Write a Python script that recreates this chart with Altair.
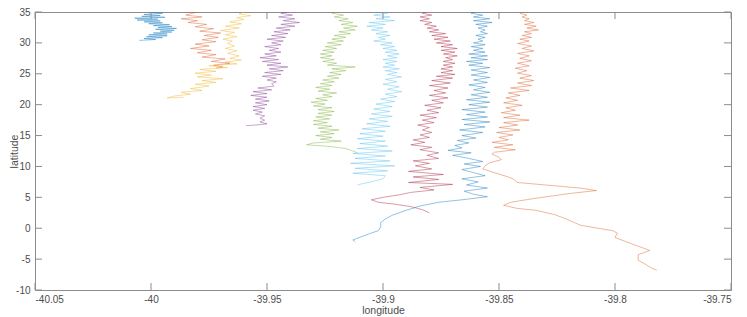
import altair as alt
import pandas as pd

# ---- data (lon, lat) ----
lat1 = [35.2, 35.0, 34.8, 34.6, 34.45, 34.3, 34.15, 34.0, 33.85, 33.7, 33.55, 33.4, 33.25, 33.1, 32.95, 32.8,
        32.65, 32.5, 32.35, 32.2, 32.05, 31.9, 31.75, 31.6, 31.45, 31.3, 31.15, 31.0, 30.85, 30.7, 30.55, 30.4]
lon1 = [-39.998, -40.001, -39.995, -40.003, -39.996, -40.004, -39.994, -40.007, -39.997, -40.006, -39.996,
        -40.003, -39.995, -40.001, -39.992, -39.999, -39.991, -39.997, -39.989, -39.998, -39.990, -39.996,
        -39.991, -39.999, -39.993, -40.001, -39.993, -40.002, -39.995, -40.003, -39.998, -40.005]

lat2 = [35.1, 34.5, 34.2, 33.9, 33.6, 33.3, 33.0, 32.6, 32.3, 31.9, 31.6, 31.2, 30.9, 30.5, 30.2, 29.8, 29.5,
        29.1, 28.8, 28.4, 28.1, 27.7, 27.4, 27.0, 26.7, 26.4, 26.1, 25.9]
lon2 = [-39.979, -39.985, -39.978, -39.987, -39.980, -39.984, -39.976, -39.981, -39.973, -39.979, -39.970,
        -39.977, -39.971, -39.978, -39.972, -39.981, -39.975, -39.983, -39.974, -39.980, -39.972, -39.978,
        -39.968, -39.974, -39.966, -39.973, -39.969, -39.972]

lat3 = [35.1, 34.7, 34.4, 34.1, 33.8, 33.4, 33.1, 32.7, 32.4, 32.0, 31.7, 31.3, 31.0, 30.6, 30.3, 29.9, 29.5,
        29.1, 28.7, 28.3, 27.9, 27.5, 27.2, 26.9, 26.6, 26.3, 26.0, 25.7, 25.4, 25.1, 24.8, 24.5, 24.2, 23.9,
        23.6, 23.3, 23.0, 22.6, 22.3, 22.0, 21.7, 21.4, 21.1, 21.2]
lon3 = [-39.959, -39.962, -39.957, -39.963, -39.960, -39.966, -39.961, -39.968, -39.962, -39.970, -39.964,
        -39.968, -39.963, -39.969, -39.965, -39.967, -39.964, -39.968, -39.963, -39.967, -39.962, -39.966,
        -39.961, -39.968, -39.963, -39.975, -39.967, -39.979, -39.972, -39.981, -39.974, -39.980, -39.969,
        -39.978, -39.972, -39.981, -39.975, -39.983, -39.978, -39.987, -39.983, -39.990, -39.993, -39.986]

lat4 = [35.1, 34.8, 34.5, 34.2, 33.9, 33.6, 33.3, 33.0, 32.7, 32.4, 32.1, 31.8, 31.5, 31.2, 30.9, 30.6, 30.3,
        30.0, 29.7, 29.4, 29.1, 28.8, 28.5, 28.2, 27.9, 27.6, 27.3, 27.0, 26.7, 26.4, 26.1, 25.8, 25.5, 25.2,
        24.9, 24.6, 24.3, 24.0, 23.7, 23.4, 23.0, 22.7, 22.4, 22.1, 21.8, 21.5, 21.2, 20.9, 20.6, 20.3, 20.0,
        19.7, 19.4, 19.1, 18.8, 18.5, 18.2, 17.8, 17.5, 17.2, 16.9, 16.7, 16.6]
lon4 = [-39.940, -39.944, -39.939, -39.945, -39.938, -39.943, -39.936, -39.944, -39.938, -39.946, -39.940,
        -39.947, -39.941, -39.948, -39.942, -39.950, -39.943, -39.948, -39.944, -39.951, -39.945, -39.949,
        -39.944, -39.951, -39.946, -39.953, -39.945, -39.952, -39.944, -39.950, -39.941, -39.949, -39.943,
        -39.951, -39.944, -39.952, -39.946, -39.950, -39.946, -39.948, -39.947, -39.954, -39.948, -39.956,
        -39.950, -39.957, -39.950, -39.955, -39.949, -39.955, -39.950, -39.956, -39.951, -39.956, -39.952,
        -39.955, -39.951, -39.953, -39.951, -39.953, -39.950, -39.955, -39.959]

lat5 = [35.1, 34.8, 34.5, 34.2, 33.9, 33.6, 33.3, 33.0, 32.7, 32.4, 32.1, 31.8, 31.5, 31.2, 30.9, 30.6, 30.3,
        30.0, 29.7, 29.4, 29.1, 28.8, 28.5, 28.2, 27.9, 27.6, 27.3, 27.0, 26.7, 26.4, 26.1, 25.8, 25.5, 25.2,
        24.9, 24.6, 24.3, 24.0, 23.7, 23.4, 23.1, 22.8, 22.5, 22.2, 21.9, 21.6, 21.3, 21.0, 20.7, 20.4, 20.1,
        19.8, 19.5, 19.2, 18.9, 18.6, 18.3, 18.0, 17.7, 17.4, 17.1, 16.8, 16.5, 16.2, 15.9, 15.6, 15.3, 15.0,
        14.7, 14.4, 14.1, 13.8, 13.5, 13.3, 13.1, 12.9, 12.5, 12.2]
lon5 = [-39.919, -39.922, -39.917, -39.921, -39.915, -39.919, -39.913, -39.918, -39.911, -39.917, -39.912,
        -39.919, -39.914, -39.921, -39.916, -39.922, -39.917, -39.924, -39.918, -39.925, -39.920, -39.926,
        -39.921, -39.927, -39.922, -39.927, -39.921, -39.926, -39.920, -39.924, -39.912, -39.922, -39.916,
        -39.923, -39.918, -39.924, -39.919, -39.926, -39.921, -39.927, -39.922, -39.929, -39.923, -39.928,
        -39.920, -39.926, -39.922, -39.929, -39.924, -39.931, -39.925, -39.930, -39.922, -39.928, -39.921,
        -39.928, -39.922, -39.929, -39.923, -39.930, -39.924, -39.930, -39.922, -39.928, -39.919, -39.927,
        -39.921, -39.929, -39.922, -39.927, -39.918, -39.930, -39.933, -39.925, -39.920, -39.916, -39.913,
        -39.911]

lat6 = [35.1, 34.8, 34.5, 34.2, 33.9, 33.6, 33.3, 33.0, 32.7, 32.4, 32.1, 31.8, 31.5, 31.2, 30.9, 30.6, 30.3,
        30.0, 29.7, 29.4, 29.1, 28.8, 28.5, 28.2, 27.9, 27.6, 27.3, 27.0, 26.7, 26.4, 26.1, 25.8, 25.5, 25.2,
        24.9, 24.5, 24.1, 23.7, 23.3, 22.9, 22.5, 22.1, 21.7, 21.3, 20.9, 20.5, 20.1, 19.7, 19.3, 18.9, 18.5,
        18.1, 17.7, 17.3, 16.9, 16.5, 16.1, 15.7, 15.3, 14.9, 14.5, 14.1, 13.7, 13.3, 12.9, 12.5, 12.1, 11.7,
        11.3, 10.9, 10.5, 10.1, 9.7, 9.3, 8.9, 8.5, 8.0, 7.6, 7.2, 7.0]
lon6 = [-39.901, -39.898, -39.904, -39.897, -39.903, -39.895, -39.906, -39.899, -39.907, -39.900, -39.905,
        -39.898, -39.903, -39.897, -39.902, -39.899, -39.904, -39.896, -39.901, -39.895, -39.900, -39.894,
        -39.899, -39.893, -39.898, -39.894, -39.900, -39.894, -39.899, -39.895, -39.900, -39.893, -39.899,
        -39.894, -39.898, -39.892, -39.899, -39.894, -39.900, -39.893, -39.898, -39.892, -39.899, -39.894,
        -39.901, -39.895, -39.903, -39.896, -39.904, -39.897, -39.905, -39.896, -39.906, -39.898, -39.907,
        -39.897, -39.909, -39.899, -39.910, -39.900, -39.911, -39.899, -39.910, -39.898, -39.911, -39.896,
        -39.913, -39.899, -39.912, -39.897, -39.914, -39.895, -39.912, -39.898, -39.913, -39.899, -39.900,
        -39.904, -39.909, -39.911]

lat7 = [35.1, 34.8, 34.5, 34.2, 33.9, 33.6, 33.3, 33.0, 32.7, 32.4, 32.1, 31.8, 31.5, 31.2, 30.9, 30.6, 30.3,
        30.0, 29.7, 29.4, 29.1, 28.8, 28.5, 28.2, 27.9, 27.6, 27.3, 27.0, 26.7, 26.4, 26.1, 25.8, 25.5, 25.2,
        24.9, 24.6, 24.3, 23.9, 23.5, 23.1, 22.7, 22.3, 21.9, 21.5, 21.1, 20.7, 20.3, 19.9, 19.5, 19.1, 18.7,
        18.3, 17.9, 17.5, 17.1, 16.7, 16.3, 15.9, 15.5, 15.1, 14.7, 14.3, 13.9, 13.5, 13.1, 12.7, 12.2, 11.8,
        11.3, 10.9, 10.5, 10.1, 9.6, 9.2, 8.7, 8.3, 7.9, 7.4, 7.1, 6.6, 6.2, 5.8, 5.4, 5.0, 4.6, 4.2, 3.9,
        3.5, 3.0, 2.5]
lon7 = [-39.881, -39.883, -39.879, -39.884, -39.880, -39.884, -39.879, -39.882, -39.877, -39.881, -39.876,
        -39.880, -39.873, -39.879, -39.872, -39.878, -39.871, -39.877, -39.870, -39.875, -39.868, -39.875,
        -39.869, -39.874, -39.868, -39.873, -39.870, -39.874, -39.869, -39.874, -39.870, -39.875, -39.870,
        -39.875, -39.869, -39.877, -39.870, -39.879, -39.871, -39.880, -39.872, -39.878, -39.873, -39.880,
        -39.872, -39.879, -39.874, -39.882, -39.875, -39.881, -39.876, -39.884, -39.877, -39.883, -39.878,
        -39.885, -39.880, -39.883, -39.879, -39.884, -39.880, -39.887, -39.882, -39.888, -39.879, -39.884,
        -39.876, -39.881, -39.876, -39.887, -39.880, -39.886, -39.879, -39.889, -39.874, -39.887, -39.876,
        -39.889, -39.870, -39.884, -39.878, -39.888, -39.893, -39.900, -39.905, -39.902, -39.895, -39.888,
        -39.883, -39.880]

lat8 = [35.1, 34.8, 34.5, 34.2, 33.9, 33.6, 33.3, 33.0, 32.7, 32.4, 32.1, 31.8, 31.5, 31.2, 30.9, 30.6, 30.3,
        30.0, 29.7, 29.4, 29.1, 28.8, 28.5, 28.2, 27.9, 27.6, 27.3, 27.0, 26.7, 26.4, 26.0, 25.6, 25.2, 24.8,
        24.4, 24.0, 23.6, 23.2, 22.8, 22.4, 22.0, 21.6, 21.2, 20.8, 20.4, 20.0, 19.6, 19.2, 18.8, 18.4, 18.0,
        17.6, 17.2, 16.8, 16.4, 15.9, 15.5, 15.0, 14.6, 14.2, 13.8, 13.4, 13.0, 12.6, 12.2, 11.8, 11.3, 10.8,
        10.4, 10.0, 9.5, 9.0, 8.5, 8.0, 7.5, 7.0, 6.5, 6.0, 5.5, 5.1, 4.6, 4.2, 3.6, 2.9, 2.1, 1.5, 0.9, 0.2,
        -0.4, -0.9, -1.9, -2.2]
lon8 = [-39.860, -39.862, -39.857, -39.861, -39.854, -39.861, -39.853, -39.860, -39.855, -39.859, -39.856,
        -39.858, -39.855, -39.860, -39.856, -39.859, -39.857, -39.861, -39.856, -39.862, -39.857, -39.861,
        -39.856, -39.863, -39.855, -39.862, -39.855, -39.864, -39.857, -39.863, -39.854, -39.862, -39.855,
        -39.862, -39.854, -39.861, -39.855, -39.863, -39.856, -39.861, -39.854, -39.862, -39.855, -39.864,
        -39.854, -39.863, -39.855, -39.866, -39.856, -39.864, -39.855, -39.866, -39.854, -39.865, -39.856,
        -39.867, -39.857, -39.866, -39.860, -39.868, -39.863, -39.869, -39.866, -39.872, -39.862, -39.870,
        -39.863, -39.857, -39.865, -39.858, -39.866, -39.861, -39.856, -39.866, -39.859, -39.864, -39.855,
        -39.865, -39.861, -39.855, -39.866, -39.876, -39.884, -39.890, -39.896, -39.899, -39.901, -39.901,
        -39.902, -39.906, -39.913, -39.912]

lat9 = [35.1, 34.8, 34.5, 34.2, 33.9, 33.6, 33.3, 33.0, 32.7, 32.4, 32.1, 31.8, 31.5, 31.2, 30.9, 30.6, 30.3,
        29.9, 29.5, 29.1, 28.7, 28.3, 27.9, 27.5, 27.1, 26.7, 26.3, 25.9, 25.5, 25.1, 24.7, 24.3, 23.9, 23.5,
        23.1, 22.7, 22.3, 21.9, 21.5, 21.1, 20.7, 20.3, 19.9, 19.5, 19.1, 18.7, 18.3, 17.9, 17.5, 17.1, 16.7,
        16.3, 15.9, 15.5, 15.1, 14.7, 14.3, 13.9, 13.5, 13.1, 12.7, 12.3, 12.0, 11.5, 11.1, 10.6, 10.1, 9.6,
        9.0, 8.3, 8.0, 7.4, 7.0, 6.5, 6.1, 5.6, 4.8, 4.2, 3.7, 3.2, 2.9, 2.2, 1.5, 0.5, 0.1, -0.4, -0.8, -1.5,
        -2.5, -3.6, -4.3, -5.2, -5.8, -6.5, -6.8]
lon9 = [-39.840, -39.841, -39.838, -39.840, -39.837, -39.839, -39.835, -39.839, -39.834, -39.838, -39.833,
        -39.839, -39.836, -39.840, -39.836, -39.841, -39.837, -39.842, -39.836, -39.840, -39.835, -39.842,
        -39.837, -39.841, -39.836, -39.842, -39.837, -39.843, -39.838, -39.842, -39.836, -39.841, -39.835,
        -39.842, -39.836, -39.845, -39.837, -39.846, -39.841, -39.847, -39.842, -39.848, -39.840, -39.847,
        -39.843, -39.849, -39.841, -39.848, -39.837, -39.848, -39.842, -39.850, -39.841, -39.851, -39.844,
        -39.850, -39.846, -39.853, -39.844, -39.852, -39.843, -39.852, -39.853, -39.850, -39.849, -39.854,
        -39.856, -39.857, -39.852, -39.846, -39.844, -39.842, -39.830, -39.815, -39.808, -39.820, -39.835,
        -39.845, -39.848, -39.842, -39.834, -39.826, -39.821, -39.815, -39.809, -39.801, -39.799, -39.800,
        -39.793, -39.785, -39.790, -39.790, -39.787, -39.784, -39.782]

tracks = [(lon1, lat1), (lon2, lat2), (lon3, lat3), (lon4, lat4), (lon5, lat5),
          (lon6, lat6), (lon7, lat7), (lon8, lat8), (lon9, lat9)]
track_names = ["t%d" % (k + 1) for k in range(len(tracks))]
track_colors = ["#0072BD", "#D95319", "#EDB120", "#7E2F8E", "#77AC30",
                "#4DBEEE", "#A2142F", "#0072BD", "#D95319"]

x_ticks = [-40.05, -40, -39.95, -39.9, -39.85, -39.8, -39.75]
y_ticks = [-10, -5, 0, 5, 10, 15, 20, 25, 30, 35]

rows = []
for name, (lo, la) in zip(track_names, tracks):
    for i, (a, b) in enumerate(zip(lo, la)):
        rows.append({"track": name, "i": i, "lon": a, "lat": b})
df = pd.DataFrame(rows)

W, H = 696, 278
axis_col = "#8c8c8c"
lab_col = "#4d4d4d"
font = "Liberation Sans"

xscale = alt.Scale(domain=[-40.05, -39.75], nice=False, zero=False)
yscale = alt.Scale(domain=[-10, 35], nice=False, zero=False)

x_axis = alt.Axis(values=x_ticks, title="longitude", labelExpr="'' + datum.value",
                  ticks=False, tickSize=0, domain=False, grid=False, labelPadding=4,
                  labelOverlap=False, titlePadding=1, labelFontSize=10, titleFontSize=10.5,
                  labelColor=lab_col, titleColor=lab_col, labelFont=font, titleFont=font,
                  titleFontWeight="normal")
y_axis = alt.Axis(values=y_ticks, title="latitude", labelExpr="'' + datum.value",
                  ticks=False, tickSize=0, domain=False, labelOverlap=False,
                  grid=False, labelPadding=5, labelFontSize=10, titleFontSize=10.5,
                  labelColor=lab_col, titleColor=lab_col, labelFont=font, titleFont=font,
                  titleFontWeight="normal", titleAngle=270, titleX=-21, titleY=H / 2,
                  titleAlign="center", titleBaseline="middle")

lines = alt.Chart(df).mark_line(strokeWidth=0.85, opacity=0.5, clip=True).encode(
    x=alt.X("lon:Q", scale=xscale, axis=x_axis, title="longitude"),
    y=alt.Y("lat:Q", scale=yscale, axis=y_axis, title="latitude"),
    color=alt.Color("track:N", scale=alt.Scale(domain=track_names, range=track_colors), legend=None),
    detail="track:N",
    order="i:Q",
)

xt = pd.DataFrame({"v": x_ticks})
yt = pd.DataFrame({"v": y_ticks})

bottom_ticks = alt.Chart(xt).mark_rule(color=axis_col, strokeWidth=1).encode(
    x=alt.X("v:Q", scale=xscale, axis=x_axis, title="longitude"), y=alt.value(H), y2=alt.value(H - 7))
top_ticks = alt.Chart(xt).mark_rule(color=axis_col, strokeWidth=1).encode(
    x=alt.X("v:Q", scale=xscale, axis=x_axis, title="longitude"), y=alt.value(0), y2=alt.value(7))
left_ticks = alt.Chart(yt).mark_rule(color=axis_col, strokeWidth=1).encode(
    y=alt.Y("v:Q", scale=yscale, axis=y_axis, title="latitude"), x=alt.value(0), x2=alt.value(7))
right_ticks = alt.Chart(yt).mark_rule(color=axis_col, strokeWidth=1).encode(
    y=alt.Y("v:Q", scale=yscale, axis=y_axis, title="latitude"), x=alt.value(W), x2=alt.value(W - 7))

chart = alt.layer(lines, bottom_ticks, top_ticks, left_ticks, right_ticks).properties(
    width=W, height=H,
    autosize=alt.AutoSizeParams(type="none"),
    padding={"left": 27, "top": 4, "right": 8, "bottom": 27},
).configure_view(stroke=axis_col, strokeWidth=1)

chart.save("out.html", embed_options={"renderer": "svg", "actions": False})
